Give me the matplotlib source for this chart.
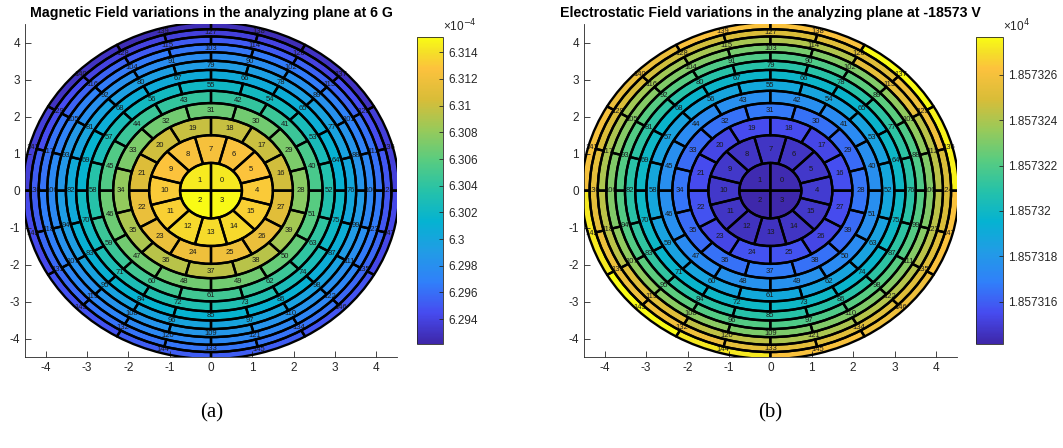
import numpy as np
import matplotlib.pyplot as plt
from matplotlib.patches import Wedge
from matplotlib.collections import PatchCollection
from matplotlib.colors import LinearSegmentedColormap, Normalize

plt.rcParams['font.family'] = ['Liberation Sans', 'DejaVu Sans']
plt.rcParams['axes.unicode_minus'] = False

# MATLAB parula, approximated by a few anchor colours
parula_anchors = [
    (0.00, (0.2422, 0.1504, 0.6603)),
    (0.10, (0.2760, 0.2950, 0.9400)),
    (0.20, (0.1900, 0.5000, 0.9800)),
    (0.30, (0.1300, 0.6100, 0.9000)),
    (0.40, (0.0200, 0.7000, 0.8200)),
    (0.50, (0.1500, 0.7600, 0.6600)),
    (0.60, (0.3500, 0.8000, 0.5000)),
    (0.70, (0.6000, 0.7900, 0.3500)),
    (0.80, (0.8500, 0.7400, 0.2200)),
    (0.90, (0.9900, 0.7600, 0.2400)),
    (0.95, (0.9600, 0.8700, 0.1600)),
    (1.00, (0.9769, 0.9839, 0.0805)),
]
parula = LinearSegmentedColormap.from_list('parula', parula_anchors, N=256)

# detector layout: 4 bullseye pixels + 12 rings of 12 pixels, all 44 mm^2
pixel_area = 44.0
n_rings = 12

# magnetic field per pixel (x1e-4 T), ring by ring
mag_rings = [
    [6.3144, 6.3145, 6.3151, 6.3150],
    [6.3131, 6.3128, 6.3125, 6.3124, 6.3125, 6.3128, 6.3131, 6.3134, 6.3137, 6.3138, 6.3137, 6.3134],
    [6.3102, 6.3100, 6.3099, 6.3099, 6.3101, 6.3108, 6.3116, 6.3118, 6.3119, 6.3119, 6.3117, 6.3110],
    [6.3076, 6.3072, 6.3068, 6.3066, 6.3068, 6.3072, 6.3080, 6.3089, 6.3093, 6.3095, 6.3093, 6.3086],
    [6.3052, 6.3046, 6.3042, 6.3042, 6.3046, 6.3056, 6.3066, 6.3068, 6.3068, 6.3068, 6.3064, 6.3058],
    [6.3033, 6.3027, 6.3023, 6.3021, 6.3023, 6.3028, 6.3036, 6.3046, 6.3048, 6.3048, 6.3046, 6.3040],
    [6.3012, 6.3008, 6.3005, 6.3005, 6.3008, 6.3014, 6.3022, 6.3030, 6.3031, 6.3031, 6.3028, 6.3020],
    [6.3002, 6.2997, 6.2994, 6.2992, 6.2994, 6.2998, 6.3004, 6.3011, 6.3014, 6.3014, 6.3012, 6.3008],
    [6.2985, 6.2981, 6.2978, 6.2978, 6.2981, 6.2987, 6.2993, 6.2998, 6.2999, 6.2999, 6.2997, 6.2991],
    [6.2974, 6.2969, 6.2966, 6.2964, 6.2966, 6.2970, 6.2976, 6.2982, 6.2985, 6.2986, 6.2984, 6.2980],
    [6.2961, 6.2955, 6.2951, 6.2951, 6.2955, 6.2962, 6.2968, 6.2972, 6.2975, 6.2975, 6.2972, 6.2966],
    [6.2950, 6.2945, 6.2940, 6.2938, 6.2940, 6.2945, 6.2952, 6.2958, 6.2962, 6.2963, 6.2962, 6.2957],
    [6.2937, 6.2930, 6.2926, 6.2926, 6.2930, 6.2937, 6.2943, 6.2948, 6.2952, 6.2952, 6.2949, 6.2942],
]

# retarding potential per pixel (x1e4 V), ring by ring
pot_rings = [
    [1.8573143, 1.8573143, 1.8573142, 1.8573142],
    [1.8573149, 1.8573148, 1.8573147, 1.8573147, 1.8573147, 1.8573148, 1.8573148, 1.8573147, 1.8573146, 1.8573146, 1.8573147, 1.8573148],
    [1.8573156, 1.8573153, 1.8573155, 1.8573155, 1.8573153, 1.8573155, 1.8573157, 1.8573153, 1.8573157, 1.8573157, 1.8573153, 1.8573155],
    [1.8573166, 1.8573163, 1.8573165, 1.8573167, 1.8573165, 1.8573163, 1.8573166, 1.8573163, 1.8573165, 1.8573168, 1.8573165, 1.8573163],
    [1.8573176, 1.8573174, 1.8573176, 1.8573176, 1.8573174, 1.8573176, 1.8573176, 1.8573174, 1.8573177, 1.8573177, 1.8573174, 1.8573176],
    [1.8573188, 1.8573186, 1.8573187, 1.8573189, 1.8573187, 1.8573186, 1.8573188, 1.8573186, 1.8573187, 1.8573189, 1.8573187, 1.8573186],
    [1.8573199, 1.8573197, 1.8573198, 1.8573198, 1.8573197, 1.8573199, 1.8573199, 1.8573197, 1.8573199, 1.8573199, 1.8573197, 1.8573199],
    [1.8573210, 1.8573211, 1.8573209, 1.8573209, 1.8573209, 1.8573211, 1.8573210, 1.8573212, 1.8573210, 1.8573209, 1.8573209, 1.8573211],
    [1.8573220, 1.8573223, 1.8573220, 1.8573220, 1.8573222, 1.8573221, 1.8573221, 1.8573223, 1.8573221, 1.8573220, 1.8573222, 1.8573221],
    [1.8573231, 1.8573234, 1.8573231, 1.8573229, 1.8573231, 1.8573232, 1.8573231, 1.8573234, 1.8573233, 1.8573230, 1.8573231, 1.8573232],
    [1.8573243, 1.8573254, 1.8573241, 1.8573239, 1.8573238, 1.8573240, 1.8573243, 1.8573252, 1.8573244, 1.8573240, 1.8573242, 1.8573243],
    [1.8573250, 1.8573258, 1.8573252, 1.8573250, 1.8573248, 1.8573250, 1.8573254, 1.8573257, 1.8573258, 1.8573254, 1.8573252, 1.8573252],
    [1.8573274, 1.8573277, 1.8573262, 1.8573262, 1.8573256, 1.8573260, 1.8573272, 1.8573277, 1.8573272, 1.8573262, 1.8573258, 1.8573262],
]

mag_lim = (6.29213, 6.31513)
mag_ticks = [6.294, 6.296, 6.298, 6.300, 6.302, 6.304, 6.306, 6.308, 6.310, 6.312, 6.314]
mag_ticklabels = ['6.294', '6.296', '6.298', '6.3', '6.302', '6.304', '6.306', '6.308', '6.31', '6.312', '6.314']

pot_lim = (1.85731413, 1.85732766)
pot_ticks = [1.857316, 1.857318, 1.857320, 1.857322, 1.857324, 1.857326]
pot_ticklabels = ['1.857316', '1.857318', '1.85732', '1.857322', '1.857324', '1.857326']


def pixel_geometry():
    """returns (r_in, r_out, theta1, theta2) for the 148 pixels, in cm / deg"""
    r_edge = [np.sqrt((4 + 12 * k) * pixel_area / np.pi) / 10.0 for k in range(n_rings + 1)]
    geom = []
    for j in range(4):
        geom.append((0.0, r_edge[0], 90.0 * j, 90.0 * (j + 1)))
    for k in range(1, n_rings + 1):
        offset = 0.0 if k % 2 == 1 else 15.0
        for j in range(12):
            c = offset + 30.0 * j
            geom.append((r_edge[k - 1], r_edge[k], c - 15.0, c + 15.0))
    return geom


def draw_panel(ax, cax, rings, lim, ticks, ticklabels, exponent, title):
    values = np.concatenate([np.asarray(r) for r in rings])
    geom = pixel_geometry()

    faces, edges = [], []
    for r_in, r_out, t1, t2 in geom:
        w = None if r_in == 0 else r_out - r_in
        faces.append(Wedge((0, 0), r_out, t1, t2, width=w))
        edges.append(Wedge((0, 0), r_out, t1, t2, width=w))

    pc = PatchCollection(faces, cmap=parula, norm=Normalize(*lim),
                         edgecolor='none', zorder=1)
    pc.set_array(values)
    ax.add_collection(pc)

    # pixel numbers, partly hidden by the black borders like in the original
    for i, (r_in, r_out, t1, t2) in enumerate(geom):
        rm = r_out / 2 if r_in == 0 else (r_in + r_out) / 2
        a = np.deg2rad((t1 + t2) / 2)
        ax.text(rm * np.cos(a), rm * np.sin(a), str(i), fontsize=5.5,
                ha='center', va='center', color='#1a1a1a', zorder=2, clip_on=True)

    ec = PatchCollection(edges, facecolor='none', edgecolor='black',
                         linewidth=1.7, zorder=3)
    ax.add_collection(ec)

    ax.set_xlim(-4.5, 4.5)
    ax.set_ylim(-4.5, 4.5)
    ax.set_xticks(range(-4, 5))
    ax.set_yticks(range(-4, 5))
    ax.spines['top'].set_visible(False)
    ax.spines['right'].set_visible(False)
    for s in ('left', 'bottom'):
        ax.spines[s].set_color('#262626')
        ax.spines[s].set_linewidth(0.6)
    ax.tick_params(direction='in', length=4, width=0.6, colors='#262626', labelsize=8.5)
    ax.set_title(title, fontsize=10.2, fontweight='bold', pad=5)

    cb = plt.colorbar(pc, cax=cax)
    cb.set_ticks(ticks)
    cb.set_ticklabels(ticklabels)
    cb.ax.tick_params(direction='in', length=3, width=0.6, colors='#262626', labelsize=8.5)
    cb.outline.set_linewidth(0.6)
    cb.outline.set_edgecolor('#262626')
    cax.text(1.0, 1.01, exponent, transform=cax.transAxes, fontsize=8.5,
             ha='left', va='bottom', color='#262626')


fig = plt.figure(figsize=(10.63, 4.48), dpi=100)
ax1 = fig.add_axes([0.0235, 0.203, 0.350, 0.743])
cax1 = fig.add_axes([0.3923, 0.232, 0.0245, 0.685])
ax2 = fig.add_axes([0.5494, 0.203, 0.3506, 0.743])
cax2 = fig.add_axes([0.9182, 0.232, 0.0251, 0.685])

draw_panel(ax1, cax1, mag_rings, mag_lim, mag_ticks, mag_ticklabels,
           '×10$^{-4}$', 'Magnetic Field variations in the analyzing plane at 6 G')
draw_panel(ax2, cax2, pot_rings, pot_lim, pot_ticks, pot_ticklabels,
           '×10$^{4}$', 'Electrostatic Field variations in the analyzing plane at -18573 V')

fig.text(0.1995, 0.078, '(a)', family='Liberation Serif', fontsize=15, ha='center', va='center')
fig.text(0.7245, 0.078, '(b)', family='Liberation Serif', fontsize=15, ha='center', va='center')

fig.savefig('out.png', dpi=100)
